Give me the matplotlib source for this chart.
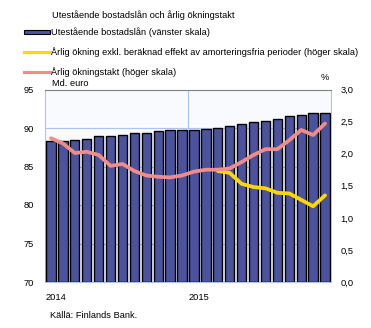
import matplotlib
matplotlib.use('Agg')
import matplotlib.pyplot as plt
from matplotlib.patches import Rectangle
from matplotlib.lines import Line2D

plt.rcParams['font.family'] = ['Liberation Sans', 'DejaVu Sans']

# months Jan 2014 .. Dec 2015
stock = [88.35, 88.35, 88.5, 88.6, 88.9, 89.0, 89.1, 89.4, 89.4, 89.65, 89.8, 89.8,
         89.8, 89.9, 90.05, 90.2, 90.55, 90.8, 90.95, 91.2, 91.5, 91.75, 91.9, 92.0]
growth = [2.24, 2.16, 2.01, 2.03, 1.98, 1.81, 1.84, 1.73, 1.66, 1.64, 1.63, 1.66,
          1.72, 1.75, 1.75, 1.77, 1.87, 1.98, 2.07, 2.07, 2.21, 2.37, 2.29, 2.47]
growth_excl = [None]*14 + [1.73, 1.70, 1.53, 1.48, 1.46, 1.39, 1.38, 1.28, 1.18, 1.35]
year_labels = ['2014', '2015']
year_pos = [0, 12]

title = 'Utestående bostadslån och årlig ökningstakt'
leg_labels = ['Utestående bostadslån (vänster skala)',
              'Årlig ökning exkl. beräknad effekt av amorteringsfria perioder (höger skala)',
              'Årlig ökningstakt (höger skala)']

bar_col = '#4b539e'
yel = '#ffd800'
pink = '#f08c8c'
grid_col = '#a8c4f0'
fs = 6.7

fig = plt.figure(figsize=(3.71, 3.28), dpi=100)
ax = fig.add_axes([45/371, 1-282/328, 286/371, (282-89.5)/328])
ax.set_facecolor('#f8fafe')
x = list(range(len(stock)))
ax.bar(x, [s-70 for s in stock], bottom=70, width=0.78, color=bar_col, edgecolor='black', linewidth=1.0, zorder=3)
ax.set_xlim(-0.5, 23.5)
ax.set_ylim(70, 95)
ax.set_yticks([70, 75, 80, 85, 90, 95])
ax.set_yticklabels([str(v) for v in [70, 75, 80, 85, 90, 95]], fontsize=fs)
for v in [75, 80, 85, 90]:
    ax.axhline(v, color=grid_col, lw=0.8, zorder=1)
ax.axvline(11.5, color=grid_col, lw=0.8, zorder=1)
ax.set_xticks([])
ax.tick_params(axis='y', length=0, pad=8)
for sp in ['left', 'bottom', 'right']:
    ax.spines[sp].set_color(grid_col)
ax.spines['top'].set_color('#808080')
for p, lab in zip(year_pos, year_labels):
    ax.text(p-0.45, 68.6, lab, fontsize=fs, ha='left', va='top')

ax2 = ax.twinx()
ax2.set_ylim(0, 3)
ax2.set_yticks([0, 0.5, 1.0, 1.5, 2.0, 2.5, 3.0])
ax2.set_yticklabels(['0,0', '0,5', '1,0', '1,5', '2,0', '2,5', '3,0'], fontsize=fs)
ax2.tick_params(axis='y', length=0, pad=7)
for sp in ax2.spines.values():
    sp.set_visible(False)
xe = [i for i, v in enumerate(growth_excl) if v is not None]
ax2.plot(xe, [growth_excl[i] for i in xe], color=yel, lw=2.7, zorder=4, solid_capstyle='round')
ax2.plot(x, growth, color=pink, lw=2.7, zorder=5, solid_capstyle='round')

# legend drawn by hand
fig.text(52/371, 1-15/328, title, fontsize=fs, va='center')
fig.add_artist(Rectangle((24/371, 1-34/328), 26/371, 4/328, transform=fig.transFigure,
                         facecolor=bar_col, edgecolor='black', lw=0.8))
fig.add_artist(Line2D([24/371, 50/371], [1-52/328]*2, transform=fig.transFigure, color=yel, lw=2.2))
fig.add_artist(Line2D([24/371, 50/371], [1-72/328]*2, transform=fig.transFigure, color=pink, lw=2.2))
for yy, lab in zip([32, 52, 72], leg_labels):
    fig.text(51/371, 1-yy/328, lab, fontsize=fs, va='center')
fig.text(52/371, 1-84/328, 'Md. euro', fontsize=fs, va='center')
fig.text(325/371, 1-77/328, '%', fontsize=fs, va='center', ha='center')
fig.text(50/371, 1-315/328, 'Källä: Finlands Bank.', fontsize=fs, va='center')

fig.savefig('out.png', dpi=100)
